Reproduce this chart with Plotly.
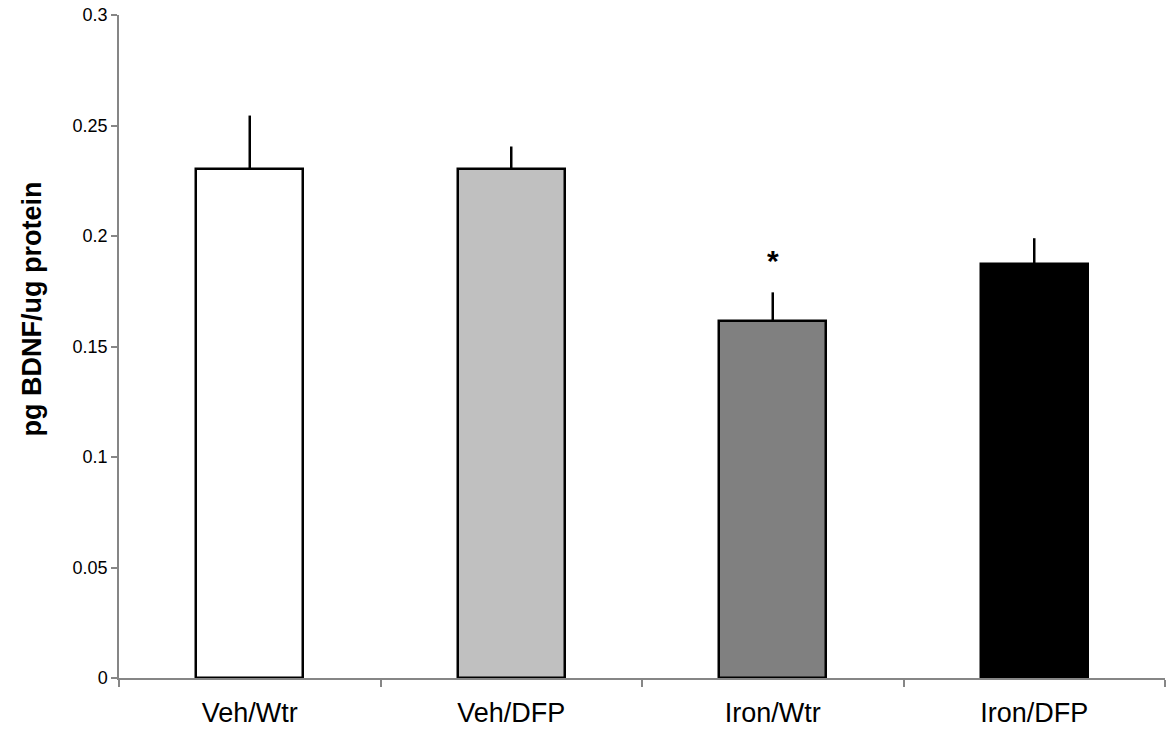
import plotly.graph_objects as go

categories = ["Veh/Wtr", "Veh/DFP", "Iron/Wtr", "Iron/DFP"]
means = [0.2305, 0.2305, 0.1615, 0.1875]
errors = [0.024, 0.010, 0.013, 0.0115]
colors = ["#FFFFFF", "#C0C0C0", "#808080", "#000000"]
y_ticks = [0, 0.05, 0.1, 0.15, 0.2, 0.25, 0.3]
y_tick_labels = ["0", "0.05", "0.1", "0.15", "0.2", "0.25", "0.3"]
y_title = "pg BDNF/ug protein"
star_label = "<b>*</b>"
star_index = 2
star_y = 0.189

FONT = "Liberation Sans, Arial, sans-serif"

fig = go.Figure()
fig.add_trace(go.Bar(
    x=categories,
    y=means,
    width=0.41,
    marker=dict(color=colors, line=dict(color="#000000", width=2.5)),
    error_y=dict(type="data", symmetric=False, array=errors,
                 arrayminus=[0] * len(errors), color="#000000",
                 thickness=2.5, width=0),
    showlegend=False,
))

fig.add_annotation(x=categories[star_index], y=star_y, text=star_label,
                   showarrow=False, font=dict(family=FONT, size=30, color="#000000"))

fig.add_annotation(xref="paper", yref="paper", x=-0.083, y=0.556,
                   text="<b>" + y_title + "</b>", textangle=-90, showarrow=False,
                   xanchor="center", yanchor="middle",
                   font=dict(family=FONT, size=27, color="#000000"))

axis_color = "#868686"
fig.update_layout(
    width=1169, height=732,
    margin=dict(l=119, r=4, t=15, b=54),
    plot_bgcolor="white", paper_bgcolor="white",
    font=dict(family=FONT, color="#000000"),
    bargap=0,
    xaxis=dict(
        range=[-0.5, 3.5],
        showline=True, linecolor=axis_color, linewidth=1.5,
        ticks="outside", tickson="boundaries", ticklen=7, tickcolor=axis_color,
        tickwidth=1.5, tickfont=dict(family=FONT, size=27, color="#000000"),
        ticklabelstandoff=10,
        showgrid=False, zeroline=False,
    ),
    yaxis=dict(
        range=[0, 0.3],
        tickvals=y_ticks, ticktext=y_tick_labels,
        showline=True, linecolor=axis_color, linewidth=1.5,
        ticks="outside", ticklen=6, tickcolor=axis_color, tickwidth=1.5,
        tickfont=dict(family=FONT, size=18, color="#000000"),
        showgrid=False, zeroline=False,
    ),
)

fig.write_html("out.html")
